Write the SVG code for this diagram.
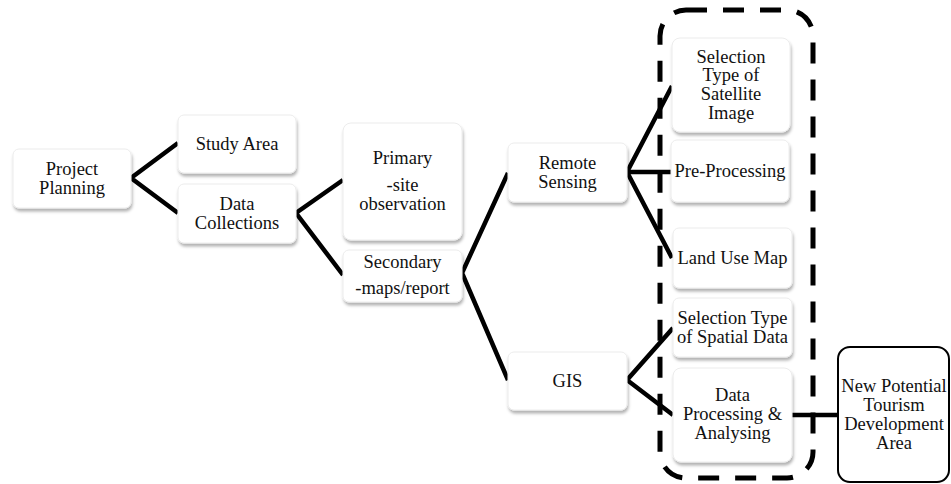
<svg xmlns="http://www.w3.org/2000/svg" width="951" height="484" viewBox="0 0 951 484">
<defs>
<filter id="sh" x="-10%" y="-10%" width="125%" height="130%">
<feDropShadow dx="1" dy="3" stdDeviation="1.5" flood-color="#000" flood-opacity="0.3"/>
</filter>
</defs>
<style>
.box{fill:#fff;stroke:#ececec;stroke-width:1;filter:url(#sh)}
.t{font-family:'Liberation Serif','DejaVu Serif',serif;font-size:18.5px;fill:#111;text-anchor:middle}
.c{stroke:#000;stroke-width:4.5;fill:none;stroke-linejoin:miter}
</style>
<rect width="951" height="484" fill="#fff"/>
<g id="connectors">
<polyline class="c" points="178,143 131,178 178,213"/>
<polyline class="c" points="343,180 296,213 343,275"/>
<polyline class="c" points="508,173 462,273 508,380"/>
<polyline class="c" points="672,86 627,172 672,258"/>
<line class="c" x1="627" y1="172" x2="672" y2="172"/>
<polyline class="c" points="673,328 627,380 673,415"/>
<line class="c" x1="792" y1="415" x2="838" y2="415"/>
</g>
<g id="group-box">
<rect x="660" y="10" width="153" height="468" rx="26" fill="none" stroke="#000" stroke-width="5" stroke-dasharray="21 16"/>
</g>
<g id="project-planning">
<rect class="box" x="13" y="149" width="118" height="59" rx="6"/>
<text class="t" x="72" y="174.5" font-family="Liberation Serif, serif">Project</text>
<text class="t" x="72" y="194" font-family="Liberation Serif, serif">Planning</text>
</g>
<g id="study-area">
<rect class="box" x="178" y="115" width="118" height="58" rx="6"/>
<text class="t" x="237" y="150">Study Area</text>
</g>
<g id="data-collections">
<rect class="box" x="178" y="184" width="118" height="59" rx="6"/>
<text class="t" x="237" y="209.5">Data</text>
<text class="t" x="237" y="229">Collections</text>
</g>
<g id="primary">
<rect class="box" x="343" y="123" width="119" height="117" rx="8"/>
<text class="t" x="402.5" y="164">Primary</text>
<text class="t" x="402.5" y="191">-site</text>
<text class="t" x="402.5" y="209.5">observation</text>
</g>
<g id="secondary">
<rect class="box" x="343" y="250" width="119" height="52" rx="6"/>
<text class="t" x="402.5" y="268">Secondary</text>
<text class="t" x="402.5" y="293.5">-maps/report</text>
</g>
<g id="remote-sensing">
<rect class="box" x="508" y="143" width="119" height="59" rx="6"/>
<text class="t" x="567.5" y="168.5">Remote</text>
<text class="t" x="567.5" y="188">Sensing</text>
</g>
<g id="gis">
<rect class="box" x="508" y="352" width="119" height="58" rx="6"/>
<text class="t" x="567.5" y="387">GIS</text>
</g>
<g id="selection-satellite">
<rect class="box" x="672" y="38" width="118" height="94" rx="8"/>
<text class="t" x="731" y="62.5">Selection</text>
<text class="t" x="731" y="81.3">Type of</text>
<text class="t" x="731" y="100.1">Satellite</text>
<text class="t" x="731" y="118.9">Image</text>
</g>
<g id="pre-processing">
<rect class="box" x="671" y="140" width="118" height="62" rx="6"/>
<text class="t" x="730" y="177">Pre-Processing</text>
</g>
<g id="land-use-map">
<rect class="box" x="673" y="228" width="119" height="60" rx="6"/>
<text class="t" x="732.5" y="263.5">Land Use Map</text>
</g>
<g id="selection-spatial">
<rect class="box" x="673" y="298" width="119" height="59" rx="6"/>
<text class="t" x="732.5" y="324">Selection Type</text>
<text class="t" x="732.5" y="343">of Spatial Data</text>
</g>
<g id="data-processing">
<rect class="box" x="673" y="368" width="119" height="94" rx="8"/>
<text class="t" x="732.5" y="400.5">Data</text>
<text class="t" x="732.5" y="419.5">Processing &amp;</text>
<text class="t" x="732.5" y="438.5">Analysing</text>
</g>
<g id="new-potential">
<rect x="838" y="347" width="111" height="135" rx="12" fill="#fff" stroke="#000" stroke-width="2"/>
<text class="t" x="894" y="392">New Potential</text>
<text class="t" x="894" y="411">Tourism</text>
<text class="t" x="894" y="430">Development</text>
<text class="t" x="894" y="449">Area</text>
</g>
</svg>
